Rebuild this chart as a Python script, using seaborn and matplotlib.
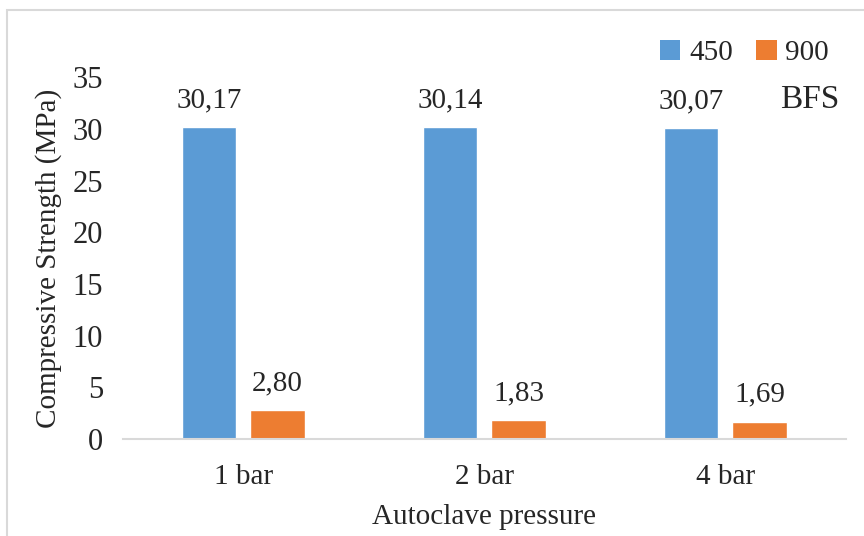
import pandas as pd
import matplotlib.pyplot as plt
import seaborn as sns
from matplotlib.patches import Rectangle, Patch

pressures = ['1 bar', '2 bar', '4 bar']
strength_450 = [30.17, 30.14, 30.07]
strength_900 = [2.80, 1.83, 1.69]
series = ['450', '900']
colors = ['#5B9BD5', '#ED7D31']


def main():
    df = pd.DataFrame({
        'pressure': pressures * 2,
        'strength': strength_450 + strength_900,
        'temp': [series[0]] * 3 + [series[1]] * 3,
    })

    sns.set_style('white')
    plt.rcParams['font.family'] = ['Liberation Serif', 'DejaVu Serif']

    fig = plt.figure(figsize=(8.64, 5.36), dpi=100)
    ax = fig.add_axes([0.142, 0.181, 0.837, 0.675])

    sns.barplot(data=df, x='pressure', y='strength', hue='temp', palette=colors,
                width=0.568, gap=0.204, saturation=1, ax=ax, legend=False)

    # value labels with decimal comma
    for container in ax.containers:
        labels = [f'{v:.2f}'.replace('.', ',') for v in container.datavalues]
        ax.bar_label(container, labels=labels, padding=10, fontsize=21)

    ax.set_ylim(0, 35)
    ax.set_yticks(range(0, 36, 5))
    ax.tick_params(axis='y', labelsize=22, length=0, pad=14)
    ax.tick_params(axis='x', labelsize=21, length=0, pad=18)
    ax.set_xlabel('Autoclave pressure', fontsize=21, labelpad=10)
    ax.set_ylabel('Compressive Strength (MPa)', fontsize=21, labelpad=8)
    for side in ['top', 'right', 'left']:
        ax.spines[side].set_visible(False)
    ax.spines['bottom'].set_color('#D9D9D9')
    ax.spines['bottom'].set_linewidth(1.5)

    handles = [Patch(facecolor=c, edgecolor='none') for c in colors]
    fig.legend(handles, series, loc='upper right', bbox_to_anchor=(0.99, 0.975),
               ncol=2, frameon=False, fontsize=21, handlelength=0.7,
               handleheight=0.7, handletextpad=0.3, columnspacing=0.8)
    fig.text(0.972, 0.813, 'BFS', fontsize=24, ha='right', va='center')

    # chart area border
    fig.patches.append(Rectangle((0.008, -0.05), 1.1, 1.031, transform=fig.transFigure,
                                 fill=False, edgecolor='#D9D9D9', linewidth=1.5))

    fig.savefig('out.png', dpi=100)
    plt.close(fig)


if __name__ == "__main__":
    main()
